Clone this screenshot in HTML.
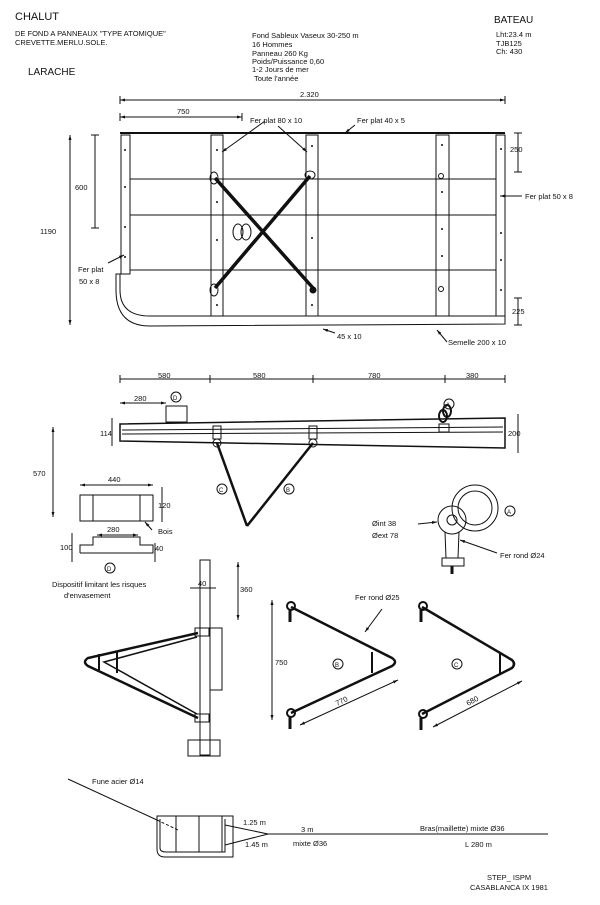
<!DOCTYPE html>
<html><head><meta charset="utf-8"><style>html,body{margin:0;padding:0;background:#fff}svg{display:block}</style></head>
<body>
<svg width="600" height="905" viewBox="0 0 600 905" xmlns="http://www.w3.org/2000/svg" font-family="Liberation Sans, sans-serif" fill="#111">
<defs><marker id="a" viewBox="0 0 10 10" refX="10" refY="5" markerWidth="5" markerHeight="5" orient="auto-start-reverse"><path d="M0 2 L10 5 L0 8 Z" fill="#111"/></marker></defs>
<g font-size="7.5">
<text x="15" y="20" font-size="11">CHALUT</text>
<text x="15" y="36">DE FOND A PANNEAUX "TYPE ATOMIQUE"</text>
<text x="15" y="45">CREVETTE.MERLU.SOLE.</text>
<text x="28" y="75" font-size="10">LARACHE</text>
<text x="252" y="38">Fond Sableux Vaseux 30-250 m</text>
<text x="252" y="47">16 Hommes</text>
<text x="252" y="56">Panneau 260 Kg</text>
<text x="252" y="64">Poids/Puissance 0,60</text>
<text x="252" y="72">1-2 Jours de mer</text>
<text x="254" y="81">Toute l'année</text>
<text x="494" y="23" font-size="10">BATEAU</text>
<text x="496" y="37">Lht:23.4 m</text>
<text x="496" y="46">TJB125</text>
<text x="496" y="54">Ch: 430</text>
</g>
<g stroke="#111" fill="none" stroke-width="1">
<line x1="120" y1="100" x2="505" y2="100" marker-start="url(#a)" marker-end="url(#a)"/><line x1="120" y1="96" x2="120" y2="104"/><line x1="505" y1="96" x2="505" y2="104"/>
<line x1="120" y1="117" x2="242" y2="117" marker-start="url(#a)" marker-end="url(#a)"/><line x1="120" y1="113" x2="120" y2="121"/><line x1="242" y1="113" x2="242" y2="121"/>
<line x1="70" y1="135" x2="70" y2="325" marker-start="url(#a)" marker-end="url(#a)"/><line x1="95" y1="135" x2="95" y2="228"/>
<line x1="91" y1="135" x2="99" y2="135"/><line x1="91" y1="228" x2="99" y2="228"/>
<line x1="518" y1="133" x2="518" y2="172"/><line x1="514" y1="133" x2="522" y2="133"/><line x1="514" y1="172" x2="522" y2="172"/>
<line x1="518" y1="298" x2="518" y2="325"/><line x1="514" y1="298" x2="522" y2="298"/><line x1="514" y1="325" x2="522" y2="325"/>
<line x1="120" y1="133" x2="505" y2="133" stroke-width="2"/>
<line x1="130" y1="179" x2="496" y2="179"/><line x1="130" y1="215" x2="496" y2="215"/><line x1="130" y1="270" x2="496" y2="270"/>
<rect x="121" y="135" width="9" height="139"/>
<rect x="211" y="135" width="12" height="181"/><rect x="306" y="135" width="12" height="181"/>
<rect x="436" y="135" width="13" height="181"/><rect x="496" y="135" width="9" height="181"/>
<path d="M120 274 L120 290 Q120 316 150 316 L505 316 L505 324 L150 326 Q116 326 116 290 L116 274 Z"/>
<line x1="215" y1="178" x2="313" y2="288" stroke-width="3.5"/>
<line x1="310" y1="176" x2="215" y2="288" stroke-width="3.5"/>
<ellipse cx="214" cy="178" rx="4" ry="6"/><ellipse cx="310" cy="175" rx="5" ry="4"/>
<ellipse cx="214" cy="290" rx="4" ry="6"/><circle cx="313" cy="290" r="3" fill="#111"/>
<ellipse cx="238" cy="232" rx="5" ry="8"/><ellipse cx="246" cy="232" rx="5" ry="8"/>
<circle cx="441" cy="176" r="2.5"/><circle cx="441" cy="289" r="2.5"/>
<line x1="265" y1="121" x2="222" y2="152" marker-end="url(#a)"/><line x1="278" y1="126" x2="307" y2="152" marker-end="url(#a)"/>
<line x1="355" y1="125" x2="345" y2="133" marker-end="url(#a)"/><line x1="108" y1="263" x2="124" y2="255" marker-end="url(#a)"/>
<line x1="522" y1="196" x2="500" y2="196" marker-end="url(#a)"/><line x1="335" y1="333" x2="323" y2="329" marker-end="url(#a)"/>
<line x1="447" y1="342" x2="437" y2="330" marker-end="url(#a)"/>
</g>
<g font-size="7.5">
<text x="300" y="97">2.320</text><text x="177" y="114">750</text>
<text x="250" y="123">Fer plat 80 x 10</text><text x="357" y="123">Fer plat 40 x 5</text>
<text x="75" y="190">600</text><text x="40" y="234">1190</text>
<text x="510" y="152">250</text><text x="525" y="199">Fer plat 50 x 8</text>
<text x="78" y="272">Fer plat</text><text x="79" y="284">50 x 8</text>
<text x="512" y="314">225</text><text x="337" y="339">45 x 10</text><text x="448" y="345">Semelle 200 x 10</text>
</g>
<g fill="#111">
<circle cx="125" cy="150" r="1"/><circle cx="125" cy="187" r="1"/><circle cx="125" cy="227" r="1"/><circle cx="125" cy="257" r="1"/>
<circle cx="217" cy="150" r="1"/><circle cx="217" cy="202" r="1"/><circle cx="217" cy="240" r="1"/><circle cx="217" cy="305" r="1"/>
<circle cx="312" cy="146" r="1"/><circle cx="312" cy="238" r="1"/><circle cx="312" cy="305" r="1"/>
<circle cx="442" cy="145" r="1"/><circle cx="442" cy="192" r="1"/><circle cx="442" cy="229" r="1"/><circle cx="442" cy="256" r="1"/>
<circle cx="501" cy="149" r="1"/><circle cx="501" cy="233" r="1"/><circle cx="501" cy="260" r="1"/><circle cx="501" cy="290" r="1"/>
</g>
<g stroke="#111" fill="none">
<line x1="120" y1="379" x2="505" y2="379"/>
<g><line x1="120" y1="375" x2="120" y2="383"/><line x1="210" y1="375" x2="210" y2="383"/><line x1="313" y1="375" x2="313" y2="383"/><line x1="445" y1="375" x2="445" y2="383"/><line x1="505" y1="375" x2="505" y2="383"/></g>
<line x1="120" y1="403" x2="166" y2="403" marker-start="url(#a)" marker-end="url(#a)"/>
<polygon points="120,424 505,418 505,448 120,441" stroke-width="1.5"/>
<line x1="122" y1="430" x2="503" y2="427"/><line x1="122" y1="434" x2="503" y2="432"/>
<rect x="166" y="406" width="21" height="16"/>
<line x1="217" y1="443" x2="247" y2="526" stroke-width="2.5"/><line x1="313" y1="443" x2="247" y2="526" stroke-width="2.5"/>
<circle cx="217" cy="443" r="4"/><circle cx="313" cy="443" r="4"/>
<rect x="213" y="426" width="8" height="13"/><rect x="309" y="426" width="8" height="13"/>
<ellipse cx="447" cy="411" rx="4" ry="6" stroke-width="2"/><ellipse cx="443" cy="416" rx="4" ry="6" stroke-width="2"/>
<rect x="439" y="424" width="10" height="8"/>
<line x1="112" y1="418" x2="112" y2="446"/><line x1="518" y1="414" x2="518" y2="453"/>
<line x1="53" y1="427" x2="53" y2="517" marker-start="url(#a)" marker-end="url(#a)"/>
<circle cx="176" cy="397" r="5"/><circle cx="449" cy="404" r="5"/>
<circle cx="222" cy="489" r="5"/><circle cx="289" cy="489" r="5"/>
<line x1="80" y1="485" x2="153" y2="485" marker-start="url(#a)" marker-end="url(#a)"/>
<rect x="80" y="495" width="73" height="26"/><line x1="93" y1="495" x2="93" y2="521"/><line x1="140" y1="495" x2="140" y2="521"/>
<line x1="162" y1="487" x2="162" y2="522"/><line x1="152" y1="530" x2="145" y2="522" marker-end="url(#a)"/>
<polyline points="80,553 80,545 93,545 93,537 140,537 140,545 153,545 153,553 80,553"/>
<line x1="97" y1="535" x2="138" y2="535" marker-start="url(#a)" marker-end="url(#a)"/><line x1="72" y1="533" x2="72" y2="562"/><line x1="155" y1="543" x2="155" y2="562"/>
<circle cx="110" cy="568" r="5"/>
<circle cx="475" cy="508" r="23"/><circle cx="475" cy="508" r="17"/>
<circle cx="452" cy="520" r="14"/><circle cx="452" cy="520" r="5"/>
<path d="M445 532 L446 558 L458 558 L459 532"/>
<rect x="442" y="558" width="22" height="8"/><line x1="452" y1="566" x2="452" y2="574" stroke-width="3"/>
<line x1="418" y1="524" x2="437" y2="522" marker-end="url(#a)"/><line x1="497" y1="553" x2="460" y2="540" marker-end="url(#a)"/>
<circle cx="510" cy="511" r="5"/>
<rect x="200" y="560" width="10" height="195"/>
<rect x="188" y="740" width="32" height="16"/>
<rect x="210" y="628" width="12" height="62"/>
<line x1="190" y1="588" x2="216" y2="588"/><line x1="238" y1="562" x2="238" y2="620" marker-start="url(#a)" marker-end="url(#a)"/>
<path d="M198 633 L88 658 Q82 662 88 666 L198 718" stroke-width="2.5"/>
<path d="M197 637 L104 662 L197 714" stroke-width="1.5"/>
<line x1="99" y1="654" x2="99" y2="670" stroke-width="2"/><line x1="117" y1="651" x2="117" y2="673" stroke-width="2"/>
<rect x="195" y="628" width="14" height="8"/><rect x="195" y="714" width="14" height="8"/>
<line x1="272" y1="600" x2="272" y2="720" marker-start="url(#a)" marker-end="url(#a)"/>
<path d="M291 607 L392 658 Q398 662 392 666 L291 713" stroke-width="2.5"/>
<line x1="372" y1="652" x2="372" y2="673" stroke-width="2"/>
<circle cx="291" cy="606" r="4" stroke-width="2"/><circle cx="291" cy="713" r="4" stroke-width="2"/>
<line x1="290" y1="610" x2="290" y2="622" stroke-width="3"/><line x1="290" y1="717" x2="290" y2="729" stroke-width="3"/>
<line x1="300" y1="725" x2="398" y2="680" marker-start="url(#a)" marker-end="url(#a)"/><line x1="382" y1="609" x2="365" y2="632" marker-end="url(#a)"/>
<circle cx="338" cy="664" r="5"/>
<path d="M422 607 L512 660 Q516 664 512 668 L422 714" stroke-width="2.5"/>
<line x1="500" y1="654" x2="500" y2="674" stroke-width="2"/>
<circle cx="423" cy="606" r="4" stroke-width="2"/><circle cx="423" cy="714" r="4" stroke-width="2"/>
<line x1="421" y1="610" x2="421" y2="622" stroke-width="3"/><line x1="421" y1="718" x2="421" y2="730" stroke-width="3"/>
<line x1="433" y1="727" x2="522" y2="681" marker-start="url(#a)" marker-end="url(#a)"/>
<circle cx="457" cy="664" r="5"/>
<line x1="68" y1="779" x2="157" y2="820"/><line x1="157" y1="820" x2="178" y2="830" stroke-dasharray="3,2"/>
<path d="M157 816 L233 816 L233 857 L165 857 Q157 857 157 849 Z"/>
<path d="M160 819 L160 848 Q160 852 166 852 L225 852 L225 819"/>
<line x1="176" y1="816" x2="176" y2="852"/><line x1="199" y1="816" x2="199" y2="852"/><line x1="222" y1="816" x2="222" y2="852"/>
<line x1="225" y1="825" x2="268" y2="834"/><line x1="225" y1="845" x2="268" y2="834"/>
<line x1="268" y1="834" x2="548" y2="834"/>
</g>
<g font-size="7.5">
<text x="158" y="378">580</text><text x="253" y="378">580</text><text x="368" y="378">780</text><text x="466" y="378">380</text>
<text x="134" y="401">280</text><text x="173" y="400" font-size="6">D</text><text x="446" y="407" font-size="6">A</text>
<text x="100" y="436">114</text><text x="508" y="436">200</text><text x="33" y="476">570</text>
<text x="219" y="492" font-size="6">C</text><text x="286" y="492" font-size="6">B</text>
<text x="108" y="482">440</text><text x="158" y="508">120</text><text x="158" y="534">Bois</text>
<text x="107" y="532">280</text><text x="60" y="550">100</text><text x="155" y="551">40</text>
<text x="107" y="571" font-size="6">D</text>
<text x="52" y="587">Dispositif limitant les risques</text><text x="64" y="598">d'envasement</text>
<text x="372" y="526">Øint 38</text><text x="372" y="538">Øext 78</text><text x="500" y="558">Fer rond Ø24</text>
<text x="507" y="514" font-size="6">A</text>
<text x="198" y="586">40</text><text x="240" y="592">360</text>
<text x="355" y="600">Fer rond Ø25</text><text x="275" y="665">750</text>
<text x="335" y="667" font-size="6">B</text><text x="454" y="667" font-size="6">C</text>
<text x="337" y="706" transform="rotate(-25 337 706)">770</text>
<text x="468" y="706" transform="rotate(-28 468 706)">680</text>
<text x="92" y="784">Fune acier Ø14</text>
<text x="243" y="825">1.25 m</text><text x="245" y="847">1.45 m</text>
<text x="301" y="832">3 m</text><text x="293" y="846">mixte Ø36</text>
<text x="420" y="831">Bras(maillette) mixte Ø36</text><text x="465" y="847">L 280 m</text>
<text x="487" y="880">STEP_ ISPM</text><text x="470" y="890">CASABLANCA IX 1981</text>
</g>
</svg>
</body></html>
